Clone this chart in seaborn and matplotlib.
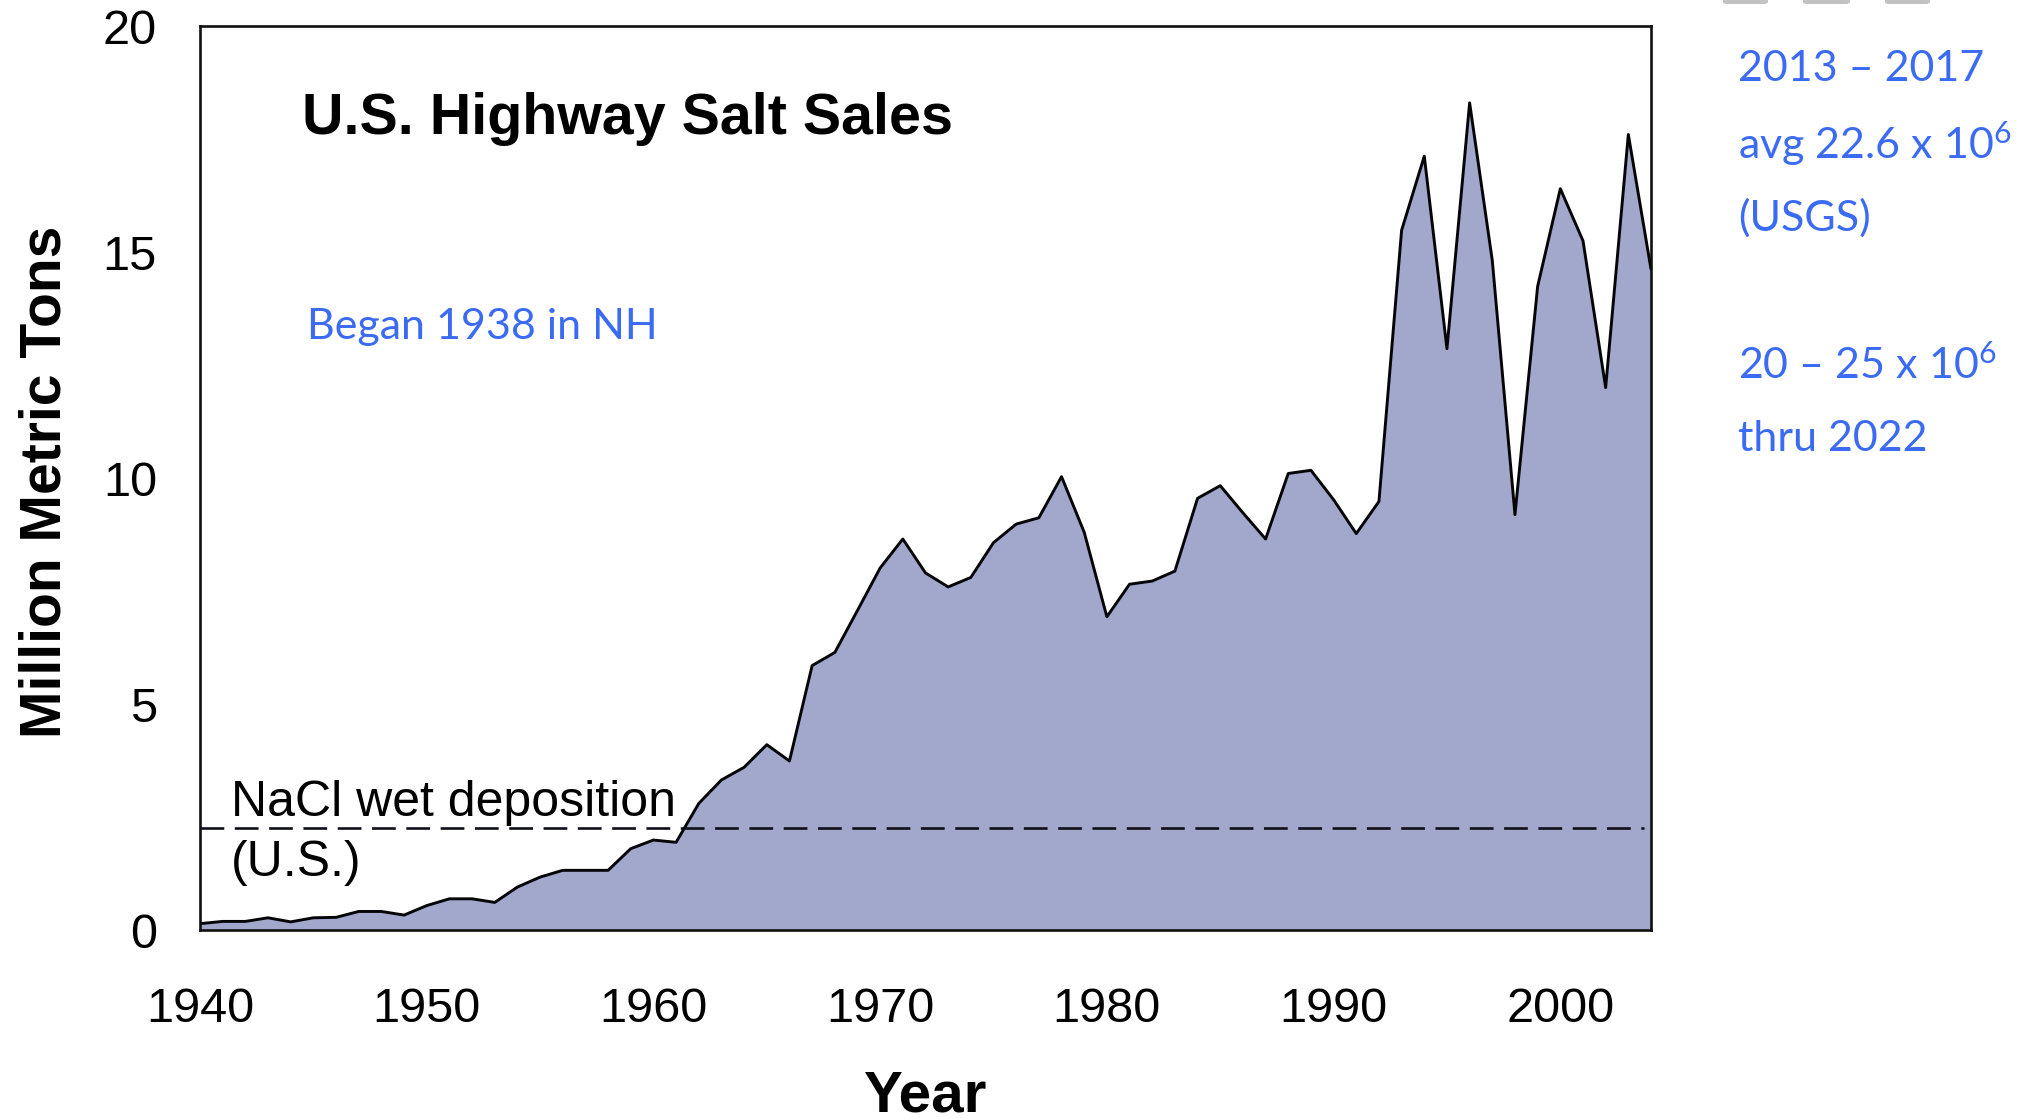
import numpy as np
import pandas as pd
import matplotlib
matplotlib.use("Agg")
import matplotlib.pyplot as plt
import seaborn as sns
from matplotlib.patches import FancyBboxPatch

# ---- data ----
years = list(range(1940, 2005))
salt_mt = [
    0.14, 0.19, 0.19, 0.27, 0.18, 0.27, 0.28, 0.41, 0.41, 0.33,   # 1940-1949
    0.54, 0.69, 0.69, 0.61, 0.95, 1.17, 1.32, 1.32, 1.32, 1.80,   # 1950-1959
    1.99, 1.94, 2.80, 3.32, 3.60, 4.10, 3.74, 5.85, 6.14, 7.07,   # 1960-1969
    8.01, 8.65, 7.90, 7.59, 7.80, 8.57, 8.98, 9.12, 10.03, 8.80,  # 1970-1979
    6.93, 7.65, 7.72, 7.94, 9.55, 9.83, 9.23, 8.65, 10.10, 10.17, # 1980-1989
    9.52, 8.77, 9.48, 15.48, 17.12, 12.86, 18.30, 14.81, 9.19, 14.24, # 1990-1999
    16.40, 15.25, 12.0, 17.6, 14.62,                              # 2000-2004
]
deposition_level = 2.25
x_ticks = [1940, 1950, 1960, 1970, 1980, 1990, 2000]
y_ticks = [0, 5, 10, 15, 20]

title_text = "U.S. Highway Salt Sales"
note_began = "Began 1938 in NH"
right_notes = ["2013 \u2013 2017", "avg 22.6 x 10$^{\\mathrm{6}}$", "(USGS)",
               "20 \u2013 25 x 10$^{\\mathrm{6}}$", "thru 2022"]

df = pd.DataFrame({"Year": years, "Salt": salt_mt})

# ---- style ----
sns.set_theme(style="white")
plt.rcParams["font.family"] = ["Liberation Sans", "DejaVu Sans"]
plt.rcParams["text.color"] = "black"
plt.rcParams["xtick.color"] = "black"
plt.rcParams["ytick.color"] = "black"
plt.rcParams["axes.labelcolor"] = "black"
plt.rcParams["mathtext.fontset"] = "custom"
plt.rcParams["mathtext.rm"] = "Lato"
plt.rcParams["mathtext.it"] = "Lato:italic"
plt.rcParams["mathtext.bf"] = "Lato:bold"

W, H = 2034, 1118
fig = plt.figure(figsize=(W / 100, H / 100), dpi=100)
fig.patch.set_facecolor("white")
ax = fig.add_axes([200 / W, 1 - 930 / H, (1651 - 200) / W, (930 - 26) / H])

fill_color = "#A1A8CC"
blue = "#3C6BF3"

ax.fill_between(df["Year"], df["Salt"], 0, color=fill_color, lw=0, zorder=1)
sns.lineplot(data=df, x="Year", y="Salt", ax=ax, color="#050508", lw=2.1, zorder=3)
ax.axhline(deposition_level, xmin=0, xmax=0.995, color="#10101a", lw=1.9,
           ls=(0, (9.0, 4.0)), zorder=2)

ax.set_xlim(1940, 2004)
ax.set_ylim(0, 20)
ax.set_xticks(x_ticks)
ax.set_yticks(y_ticks)
ax.tick_params(axis="x", length=0, pad=41, labelsize=35, labelcolor="black")
ax.tick_params(axis="y", length=0, pad=31, labelsize=35, labelcolor="black")
for s in ax.spines.values():
    s.set_color("#111111")
    s.set_linewidth(1.9)
ax.set_xlabel("")
ax.set_ylabel("")

fig.text(925 / W, 1 - 1096 / H, "Year", ha="center", va="center",
         fontsize=42, fontweight="bold", color="black")
fig.text(46 / W, 1 - 482 / H, "Million Metric Tons", ha="center", va="center",
         rotation=90, fontsize=41, fontweight="bold", color="black")

fig.text(302 / W, 1 - 119 / H, title_text, ha="left", va="center",
         fontsize=41.3, fontweight="bold", color="black")
fig.text(307 / W, 1 - 327 / H, note_began, ha="left", va="center",
         fontsize=31, color=blue, family=["Lato", "DejaVu Sans"])

fig.text(231 / W, 1 - 803 / H, "NaCl wet deposition", ha="left", va="center",
         fontsize=36, color="black")
fig.text(231 / W, 1 - 863 / H, "(U.S.)", ha="left", va="center", fontsize=36,
         color="black")

for txt, yc in zip(right_notes, [69, 144, 218, 365, 439]):
    fig.text(1738 / W, 1 - yc / H, txt, ha="left", va="center", fontsize=31,
             color=blue, family=["Lato", "DejaVu Sans"])

# small grey shapes peeking in at the top edge
for x0, x1 in [(1723, 1768), (1803, 1850), (1885, 1930)]:
    fig.patches.append(FancyBboxPatch((x0 / W, 1 - 4 / H), (x1 - x0) / W, 8 / H,
                                      boxstyle="round,pad=0,rounding_size=0.002",
                                      transform=fig.transFigure, color="#a8a8a8",
                                      alpha=0.7, lw=0))

fig.savefig("out.png", dpi=100, facecolor="white")
